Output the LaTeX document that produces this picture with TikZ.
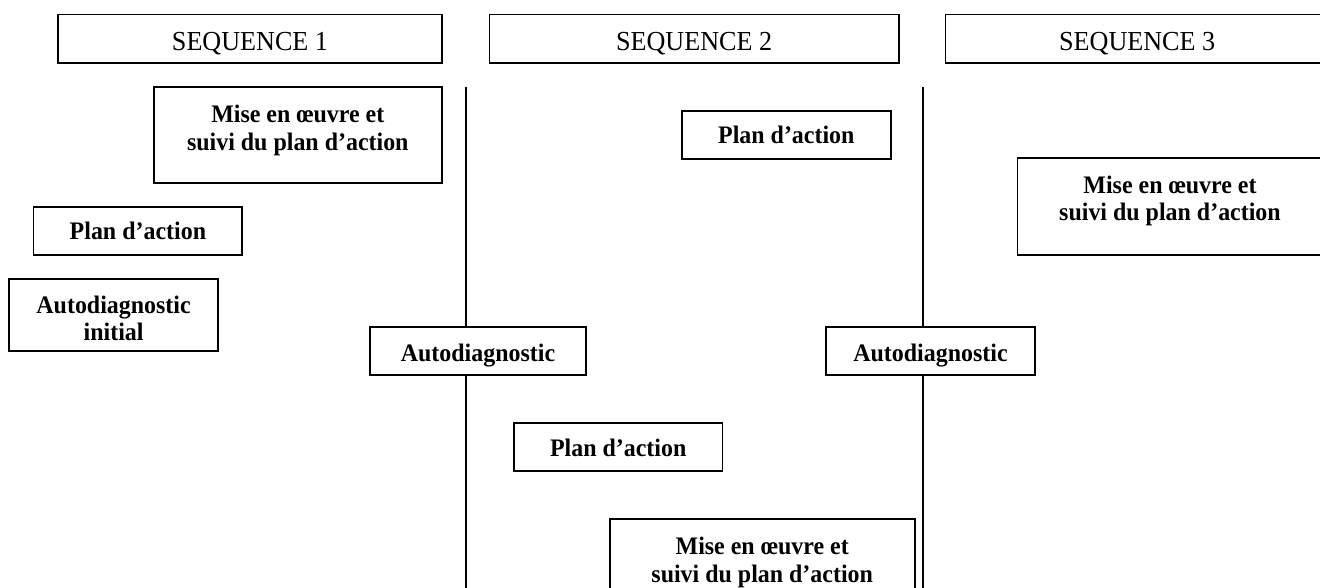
\documentclass[tikz,border=0pt]{standalone}
\usepackage{fontspec}
\setmainfont{Liberation Serif}[FakeStretch=0.95]
\begin{document}
\begin{tikzpicture}[x=1pt,y=-1pt,
  boxb/.style={draw, line width=1.8pt, fill=white, inner sep=0pt, anchor=base},
  seqbox/.style={boxb, font=\fontsize{27.5}{30}\selectfont, text height=36.2pt, text depth=12.3pt},
  boldbox/.style={boxb, font=\bfseries\fontsize{25.2}{27.5}\selectfont},
  planbox/.style={boldbox, minimum width=208.7pt, text height=33.3pt, text depth=15pt},
  vline/.style={line width=1.6pt}]
\useasboundingbox (0,0) rectangle (1320,588);
\clip (0,0) rectangle (1320,588);

% sequence headers
\node[seqbox, minimum width=384.3pt] (s1) at (250,50.7) {SEQUENCE 1};
\node[seqbox, minimum width=409.2pt] (s2) at (694.1,50.7) {SEQUENCE 2};
\node[seqbox, minimum width=383.6pt] (s3) at (1137.2,50.7) {SEQUENCE 3};

% sequence 1
\node[boldbox, minimum width=288.4pt, text height=36pt, text depth=60.3pt] (m1) at (297.8,122.7)
  {\begin{tabular}[t]{@{}c@{}}Mise en œuvre et\\suivi du plan d’action\end{tabular}};
\node[planbox] (p1) at (137.9,240) {Plan d’action};
\node[boldbox, minimum width=208.7pt, text height=34.3pt, text depth=38pt] (a0) at (113.6,313.3)
  {\begin{tabular}[t]{@{}c@{}}Autodiagnostic\\initial\end{tabular}};

% sequence 2
\node[boldbox, minimum width=216.7pt, text height=35pt, text depth=13.3pt] (a1) at (478,361.7) {Autodiagnostic};
\node[planbox] (p2) at (786.3,144) {Plan d’action};
\node[planbox] (p3) at (618.2,456.3) {Plan d’action};
\node[boldbox, minimum width=305pt, text height=35.7pt, text depth=60.8pt] (m2) at (762.2,554.7)
  {\begin{tabular}[t]{@{}c@{}}Mise en œuvre et\\suivi du plan d’action\end{tabular}};

% sequence 3
\node[boldbox, minimum width=208.3pt, text height=35pt, text depth=13.3pt] (a2) at (930.5,361.7) {Autodiagnostic};
\node[boldbox, minimum width=305pt, text height=35pt, text depth=62pt] (m3) at (1170,193.3)
  {\begin{tabular}[t]{@{}c@{}}Mise en œuvre et\\suivi du plan d’action\end{tabular}};

% separators
\coordinate (v1t) at (466.2,86.7);
\coordinate (v1b) at (466.2,592);
\coordinate (v2t) at (922.7,86.7);
\coordinate (v2b) at (922.7,592);
\draw[vline] (v1t) -- (v1t |- a1.north);
\draw[vline] (v1b |- a1.south) -- (v1b);
\draw[vline] (v2t) -- (v2t |- a2.north);
\draw[vline] (v2b |- a2.south) -- (v2b);
\end{tikzpicture}
\end{document}
